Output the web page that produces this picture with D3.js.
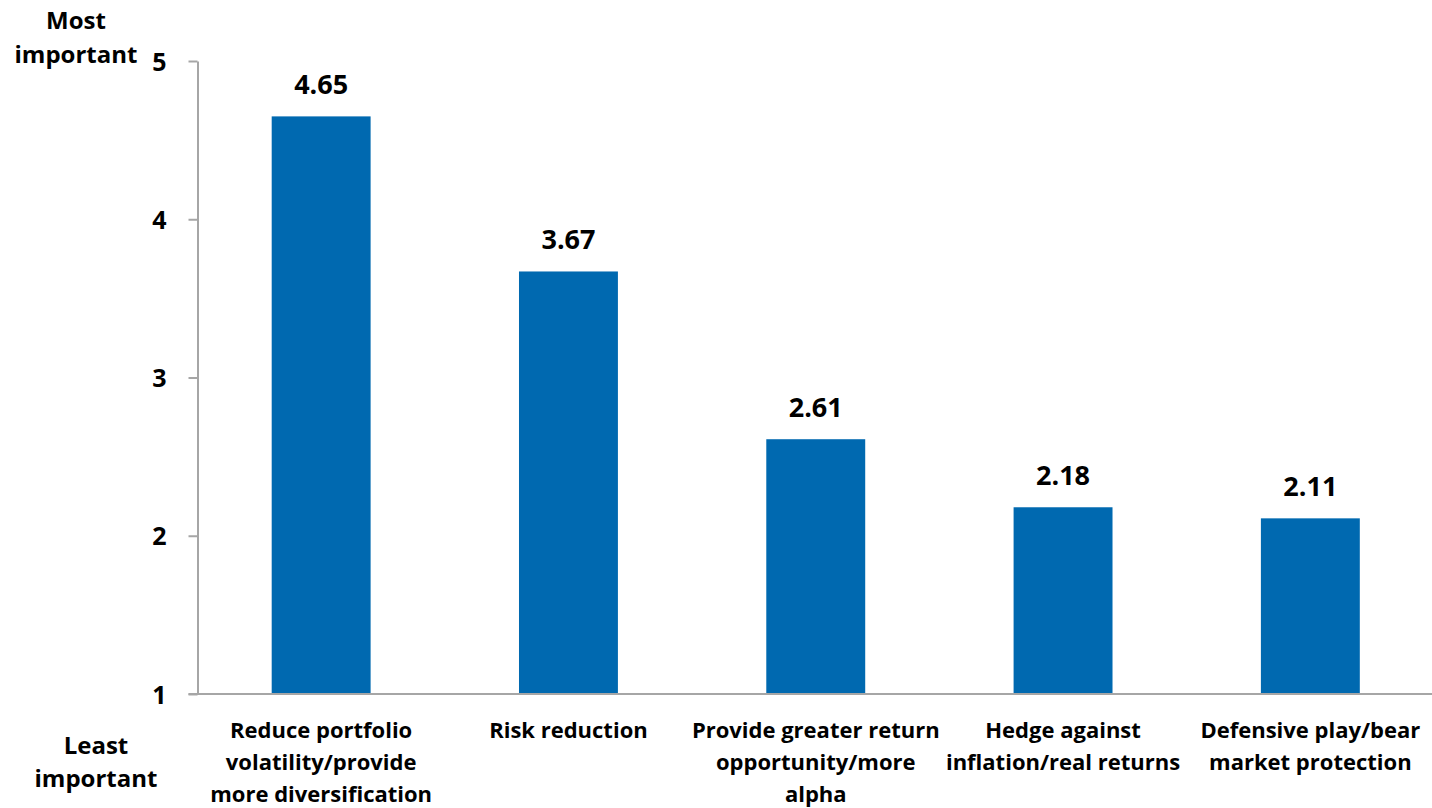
<!DOCTYPE html>
<html>
<head>
<meta charset="utf-8">
<script src="https://cdn.jsdelivr.net/npm/d3@7"></script>
<style>
  html, body { margin: 0; padding: 0; background: #fff; }
  svg text { font-family: "Open Sans", "Liberation Sans", sans-serif; font-weight: 700; fill: #000; }
</style>
</head>
<body>
<svg id="chart" width="1432" height="808"></svg>
<script>
const categories = [
  ["Reduce portfolio", "volatility/provide", "more diversification"],
  ["Risk reduction"],
  ["Provide greater return", "opportunity/more", "alpha"],
  ["Hedge against", "inflation/real returns"],
  ["Defensive play/bear", "market protection"]
];
const values = [4.65, 3.67, 2.61, 2.18, 2.11];
const valueLabels = ["4.65", "3.67", "2.61", "2.18", "2.11"];
const yTicks = [1, 2, 3, 4, 5];
const topAxisLabel = ["Most", "important"];
const bottomAxisLabel = ["Least", "important"];

const svg = d3.select("#chart");
const plotLeft = 197.5, plotRight = 1434, plotTop = 61, plotBottom = 694;

const x = d3.scaleBand().domain(d3.range(values.length)).range([plotLeft, plotRight]).paddingInner(0.6).paddingOuter(0.3);
const y = d3.scaleLinear().domain([1, 5]).range([plotBottom, plotTop]);

// bars
svg.selectAll("rect.bar").data(values).enter().append("rect")
  .attr("class", "bar")
  .attr("x", (d, i) => x(i))
  .attr("width", x.bandwidth())
  .attr("y", d => y(d))
  .attr("height", d => y(1) - y(d))
  .attr("fill", "#0069B0");

// y axis
const yAxis = d3.axisLeft(y).tickValues(yTicks).tickSize(9).tickSizeOuter(0).tickPadding(22).tickFormat(d3.format("d"));
const gy = svg.append("g").attr("transform", `translate(${plotLeft},0)`).call(yAxis);
gy.select(".domain").attr("stroke", "#A6A6A6").attr("stroke-width", 2);
gy.selectAll(".tick line").attr("stroke", "#A6A6A6").attr("stroke-width", 2);
gy.selectAll(".tick text").style("font-size", "25px").attr("dy", "0.36em");

// x axis
const xAxis = d3.axisBottom(x).tickSize(0).tickFormat("");
const gx = svg.append("g").attr("transform", `translate(0,${plotBottom})`).call(xAxis);
gx.select(".domain").attr("stroke", "#A6A6A6").attr("stroke-width", 2).attr("d", `M${plotLeft - 9},0H${plotRight}`);

// category labels
categories.forEach((lines, i) => {
  const cx = x(i) + x.bandwidth() / 2;
  const t = svg.append("text")
    .attr("x", cx)
    .attr("y", 738)
    .attr("text-anchor", "middle")
    .style("font-size", "22px");
  lines.forEach((ln, j) => {
    t.append("tspan").attr("x", cx).attr("dy", j === 0 ? 0 : 32).text(ln);
  });
});

// value labels
svg.selectAll("text.val").data(values).enter().append("text")
  .attr("class", "val")
  .attr("x", (d, i) => x(i) + x.bandwidth() / 2)
  .attr("y", d => y(d) - 22)
  .attr("text-anchor", "middle")
  .style("font-size", "27px")
  .text((d, i) => valueLabels[i]);

// axis end labels
const tl = svg.append("text").attr("x", 76).attr("y", 29).attr("text-anchor", "middle").style("font-size", "24px");
topAxisLabel.forEach((ln, j) => tl.append("tspan").attr("x", 76).attr("dy", j === 0 ? 0 : 34).text(ln));
const bl = svg.append("text").attr("x", 96).attr("y", 754).attr("text-anchor", "middle").style("font-size", "24px");
bottomAxisLabel.forEach((ln, j) => bl.append("tspan").attr("x", 96).attr("dy", j === 0 ? 0 : 33).text(ln));
</script>
</body>
</html>
